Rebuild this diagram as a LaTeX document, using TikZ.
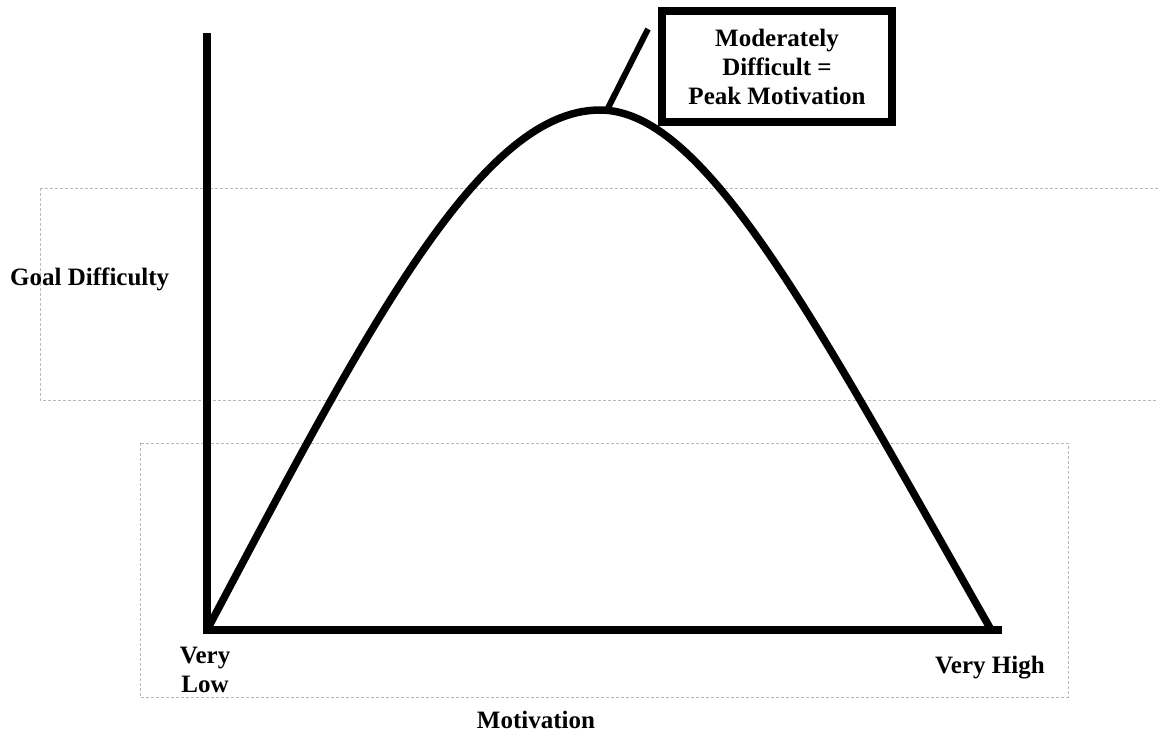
\documentclass[tikz,border=0pt]{standalone}
\usepackage{fontspec}
\setmainfont{Liberation Serif}
\usepackage{tikz}
\tikzset{%
  axisline/.style  = {line width=8pt, line join=miter},%
  curveline/.style = {line width=7.5pt},%
  guidebox/.style  = {draw=gray!55, line width=0.8pt, dash pattern=on 3pt off 2pt},%
  lbl/.style       = {inner sep=0pt, font=\fontsize{25}{29}\selectfont\bfseries},%
  callout/.style   = {lbl, draw, line width=7.5pt, align=center,%
                      minimum width=230pt, minimum height=111pt}%
}
\begin{document}
\begin{tikzpicture}[x=1pt, y=-1pt]
  \useasboundingbox (0,0) rectangle (1158,732);
  % dashed guide boxes
  \draw[guidebox] (40,188) rectangle (1162,400);
  \draw[guidebox] (140,443) rectangle (1068,697);
  % axes
  \coordinate (origin) at (207,630);
  \coordinate (ytop) at (207,33);
  \coordinate (xend) at (1002,630);
  \draw[axisline] (ytop) -- (origin) -- (xend);
  % curve
  \coordinate (top) at (600,110);
  \coordinate (right) at (990,628);
  \draw[curveline] (origin) .. controls (366,330) and (480,110) .. (top)
                            .. controls (705,110) and (815,320) .. (right);
  % callout
  \node[callout] (peakbox) at (777,66.5) {Moderately\\Difficult =\\Peak Motivation};
  \coordinate (peak) at (608,108);
  \coordinate (leadtop) at (648,29);
  \draw[line width=6pt] (peak) -- (leadtop);
  % labels
  \node[lbl, anchor=base west] (ylabel) at (10,285) {Goal Difficulty};
  \node[lbl, anchor=north, align=center] (low) at (205,647) {Very\\Low};
  \node[lbl, anchor=base west] (high) at (935,673) {Very High};
  \node[lbl, anchor=base] (xlabel) at (536,728) {Motivation};
\end{tikzpicture}
\end{document}
